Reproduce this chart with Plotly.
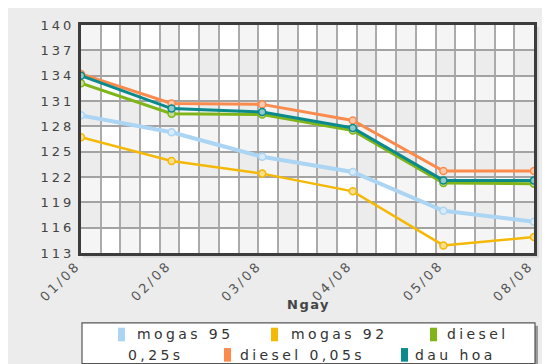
import json
import plotly.graph_objects as go

# ---------------- data ----------------
dates = ["01/08", "02/08", "03/08", "04/08", "05/08", "08/08"]
mogas95 = [129.3, 127.3, 124.4, 122.6, 118.0, 116.7]
mogas92 = [126.7, 123.9, 122.4, 120.3, 113.9, 114.9]
diesel025 = [133.1, 129.5, 129.4, 127.5, 121.3, 121.2]
diesel005 = [134.2, 130.7, 130.6, 128.7, 122.7, 122.7]
dauhoa = [134.0, 130.1, 129.7, 127.8, 121.6, 121.6]
names = ["mogas 95", "mogas 92", "diesel 0,25s", "diesel 0,05s", "dau hoa"]
y_ticks = list(range(113, 141, 3))
x_title = "Ngay"

# ---------------- style ----------------
colors = ["#acd5f3", "#f4b806", "#80b51a", "#fb8b4c", "#0a8a8c"]
widths = [4, 2.5, 3, 3, 3]
W, H = 550, 364
ML, MR, MT, MB = 73, 24, 10, 119
PW, PH = W - ML - MR, H - MT - MB
NCOL = 23
FONT = "DejaVu Sans"


def lighten(c, f=0.55):
    r, g, b = int(c[1:3], 16), int(c[3:5], 16), int(c[5:7], 16)
    r, g, b = [int(v + (255 - v) * f) for v in (r, g, b)]
    return f"rgb({r},{g},{b})"


def px_x(px):
    return (px - ML) / PW


def px_y(py):
    return (H - MB - py) / PH


series = [mogas95, mogas92, diesel025, diesel005, dauhoa]
xs = list(range(len(dates)))

fig = go.Figure()
for name, vals, col, w in zip(names, series, colors, widths):
    fig.add_trace(go.Scatter(
        x=xs, y=vals, name=name, mode="lines+markers",
        line=dict(color=col, width=w),
        marker=dict(size=7, color=lighten(col), line=dict(color=col, width=1.5)),
        showlegend=False,
    ))

shapes = []
# plot shadow and background
shapes.append(dict(type="rect", xref="paper", yref="paper", layer="below",
                   x0=px_x(ML + 2), x1=px_x(ML + PW + 5), y0=px_y(H - MB + 5), y1=px_y(MT + 2),
                   fillcolor="#d9d9d9", line=dict(width=0)))
shapes.append(dict(type="rect", xref="paper", yref="paper", layer="below",
                   x0=0, x1=1, y0=0, y1=1, fillcolor="#ffffff", line=dict(width=0)))
# checkered cells
ymin, ymax = y_ticks[0], y_ticks[-1]
nrow = len(y_ticks) - 1
for i in range(NCOL):
    for j in range(nrow):
        k = ((i + 1) % 2) + (j % 2)
        fill = ["#ffffff", "#f5f5f5", "#ececec"][k]
        shapes.append(dict(type="rect", xref="x", yref="y", layer="below",
                           x0=i * 5 / NCOL, x1=(i + 1) * 5 / NCOL,
                           y0=ymin + 3 * j, y1=ymin + 3 * (j + 1),
                           fillcolor=fill, line=dict(width=0)))

# legend box
LX0, LX1, LY0, LY1 = 74, 527, 317, 359
shapes.append(dict(type="rect", xref="paper", yref="paper",
                   x0=px_x(LX0 + 3), x1=px_x(LX1 + 3), y0=px_y(LY1 + 3), y1=px_y(LY0 + 3),
                   fillcolor="#9a9a9a", line=dict(width=0)))
shapes.append(dict(type="rect", xref="paper", yref="paper",
                   x0=px_x(LX0), x1=px_x(LX1), y0=px_y(LY1), y1=px_y(LY0),
                   fillcolor="#ffffff", line=dict(color="#555555", width=1.2)))

annotations = []
spacing = []  # per annotation: [letter spacing px, edge to keep]
LEG_FONT = dict(family=FONT, size=14, color="#333333")
# legend entries: (swatch x, text start x, row)
leg_pos = [(110, 127, 0), (263, 281, 0), (422, 437, 0), (216, 230, 1), (393, 405, 1)]
row_y = [329, 350]
for (sx, tx, r), name, col in zip(leg_pos, names, colors):
    cy = row_y[r]
    shapes.append(dict(type="rect", xref="paper", yref="paper",
                       x0=px_x(sx), x1=px_x(sx + 7), y0=px_y(cy + 7), y1=px_y(cy - 7),
                       fillcolor=col, line=dict(width=0)))
    parts = [name]
    if name == "diesel 0,25s":
        parts = name.split(" ", 1)
    annotations.append(dict(xref="paper", yref="paper", x=px_x(tx), y=px_y(cy),
                            text=parts[0], showarrow=False, xanchor="left", yanchor="middle",
                            font=LEG_FONT))
    spacing.append([3.4, "left"])
    if len(parts) > 1:
        annotations.append(dict(xref="paper", yref="paper", x=px_x(118), y=px_y(row_y[1]),
                                text=parts[1], showarrow=False, xanchor="left", yanchor="middle",
                                font=LEG_FONT))
        spacing.append([3.4, "left"])

# rotated date labels at each date's data x
for xi, d in zip(xs, dates):
    annotations.append(dict(xref="x", yref="paper", x=xi, y=px_y(249), xshift=3,
                            text=d, showarrow=False, textangle=-45,
                            xanchor="right", yanchor="top",
                            font=dict(family=FONT, size=13, color="#555555")))
    spacing.append([2.6, "right"])

# axis title
annotations.append(dict(xref="paper", yref="paper", x=px_x(300), y=px_y(298),
                        text="<b>" + x_title + "</b>", showarrow=False,
                        xanchor="center", yanchor="middle",
                        font=dict(family=FONT, size=13, color="#444444")))
spacing.append([1.5, "center"])

fig.update_layout(
    width=W, height=H,
    margin=dict(l=ML, r=MR, t=MT, b=MB, pad=0),
    paper_bgcolor="#ececec",
    plot_bgcolor="rgba(0,0,0,0)",
    shapes=shapes,
    annotations=annotations,
    showlegend=False,
    xaxis=dict(
        range=[0, 5], tickmode="array", tickvals=xs, ticktext=dates,
        showticklabels=False, showgrid=False, zeroline=False,
        showline=True, mirror=True, linecolor="#3c3c3c", linewidth=3,
        ticks="",
        minor=dict(tickmode="linear", tick0=0, dtick=5 / NCOL, showgrid=True,
                   gridcolor="#ababab", gridwidth=2, ticks=""),
    ),
    yaxis=dict(
        range=[ymin, ymax], tickmode="array", tickvals=y_ticks,
        showgrid=True, gridcolor="#a3a3a3", gridwidth=2, zeroline=False,
        showline=True, mirror=True, linecolor="#3c3c3c", linewidth=3,
        ticks="outside", ticklen=4, tickcolor="rgba(0,0,0,0)",
        tickfont=dict(family=FONT, size=13, color="#444444"),
    ),
)

post = """
var gd = document.getElementById('{plot_id}');
var cfg = %s;
function fix(t, ls, keep) {
  var b0 = t.getBBox();
  t.style.letterSpacing = ls + 'px';
  var b1 = t.getBBox();
  var d;
  if (keep === 'left') d = b0.x - b1.x;
  else if (keep === 'right') d = (b0.x + b0.width) - (b1.x + b1.width - ls);
  else d = (b0.x + b0.width / 2) - (b1.x + (b1.width - ls) / 2);
  var tr = t.getAttribute('transform') || '';
  t.setAttribute('transform', tr + ' translate(' + d + ',0)');
}
gd.querySelectorAll('.ytick text').forEach(function(t){ fix(t, 3, 'right'); });
gd.querySelectorAll('.annotation').forEach(function(a){
  var i = parseInt(a.getAttribute('data-index'));
  var t = a.querySelector('.annotation-text');
  if (t && cfg[i]) fix(t, cfg[i][0], cfg[i][1]);
});
""" % json.dumps(spacing)

fig.write_html("out.html", post_script=post)
